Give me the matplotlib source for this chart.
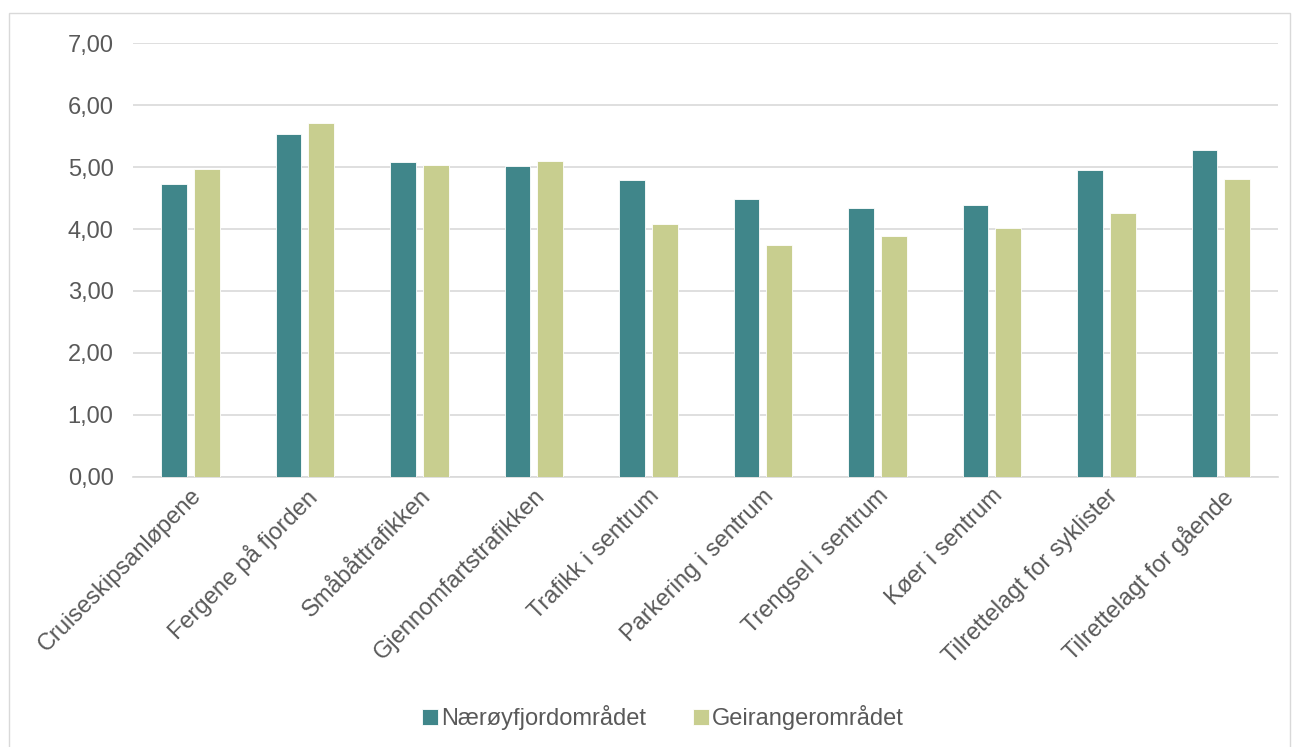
import numpy as np
import matplotlib.pyplot as plt
from matplotlib.patches import Rectangle

# data
categories = ['Cruiseskipsanløpene', 'Fergene på fjorden', 'Småbåttrafikken',
              'Gjennomfartstrafikken', 'Trafikk i sentrum', 'Parkering i sentrum',
              'Trengsel i sentrum', 'Køer i sentrum', 'Tilrettelagt for syklister',
              'Tilrettelagt for gående']
naeroy = [4.72, 5.53, 5.09, 5.02, 4.79, 4.49, 4.34, 4.39, 4.96, 5.28]
geiranger = [4.97, 5.72, 5.04, 5.10, 4.08, 3.74, 3.89, 4.02, 4.26, 4.81]
series_names = ['Nærøyfjordområdet', 'Geirangerområdet']
yticks = [0, 1, 2, 3, 4, 5, 6, 7]

teal = '#40868a'
green = '#c8ce8f'
txt = '#595959'
fs = 17

plt.rcParams['font.family'] = ['Liberation Sans', 'DejaVu Sans']

fig = plt.figure(figsize=(12.98, 7.47), dpi=100)
ax = fig.add_axes([0.1025, 0.362, 0.8821, 0.58])

# outer chart frame
fig.patches.append(Rectangle((0.007, -0.01), 0.987, 0.992, transform=fig.transFigure,
                             fill=False, ec='#d9d9d9', lw=1))

x = np.arange(len(categories))
w = 0.225
ax.bar(x - 0.143, naeroy, w, color=teal, ec='white', lw=0.6, label=series_names[0], zorder=3)
ax.bar(x + 0.143, geiranger, w, color=green, ec='white', lw=0.6, label=series_names[1], zorder=3)

ax.set_xlim(-0.5, len(categories) - 0.5)
ax.set_ylim(0, 7)
ax.set_yticks(yticks)
ax.set_yticklabels([('%1.2f' % v).replace('.', ',') for v in yticks],
                   fontsize=fs, color=txt)
ax.yaxis.grid(True, color='#d9d9d9', lw=1.2, zorder=0)
ax.tick_params(axis='y', length=0, pad=14)
ax.tick_params(axis='x', length=0, pad=6)
ax.set_xticks(x)
ax.set_xticklabels(categories, rotation=45, ha='right', rotation_mode='anchor',
                   fontsize=fs, color=txt)
for s in ['top', 'right', 'left']:
    ax.spines[s].set_visible(False)
ax.spines['bottom'].set_color('#d9d9d9')
ax.spines['bottom'].set_linewidth(1.2)

fig.legend(loc='center', bbox_to_anchor=(0.511, 0.039), ncol=2, frameon=False,
           fontsize=fs, labelcolor=txt, handlelength=0.65, handleheight=0.65,
           handletextpad=0.15, columnspacing=2.0)

fig.savefig('out.png', dpi=100)
